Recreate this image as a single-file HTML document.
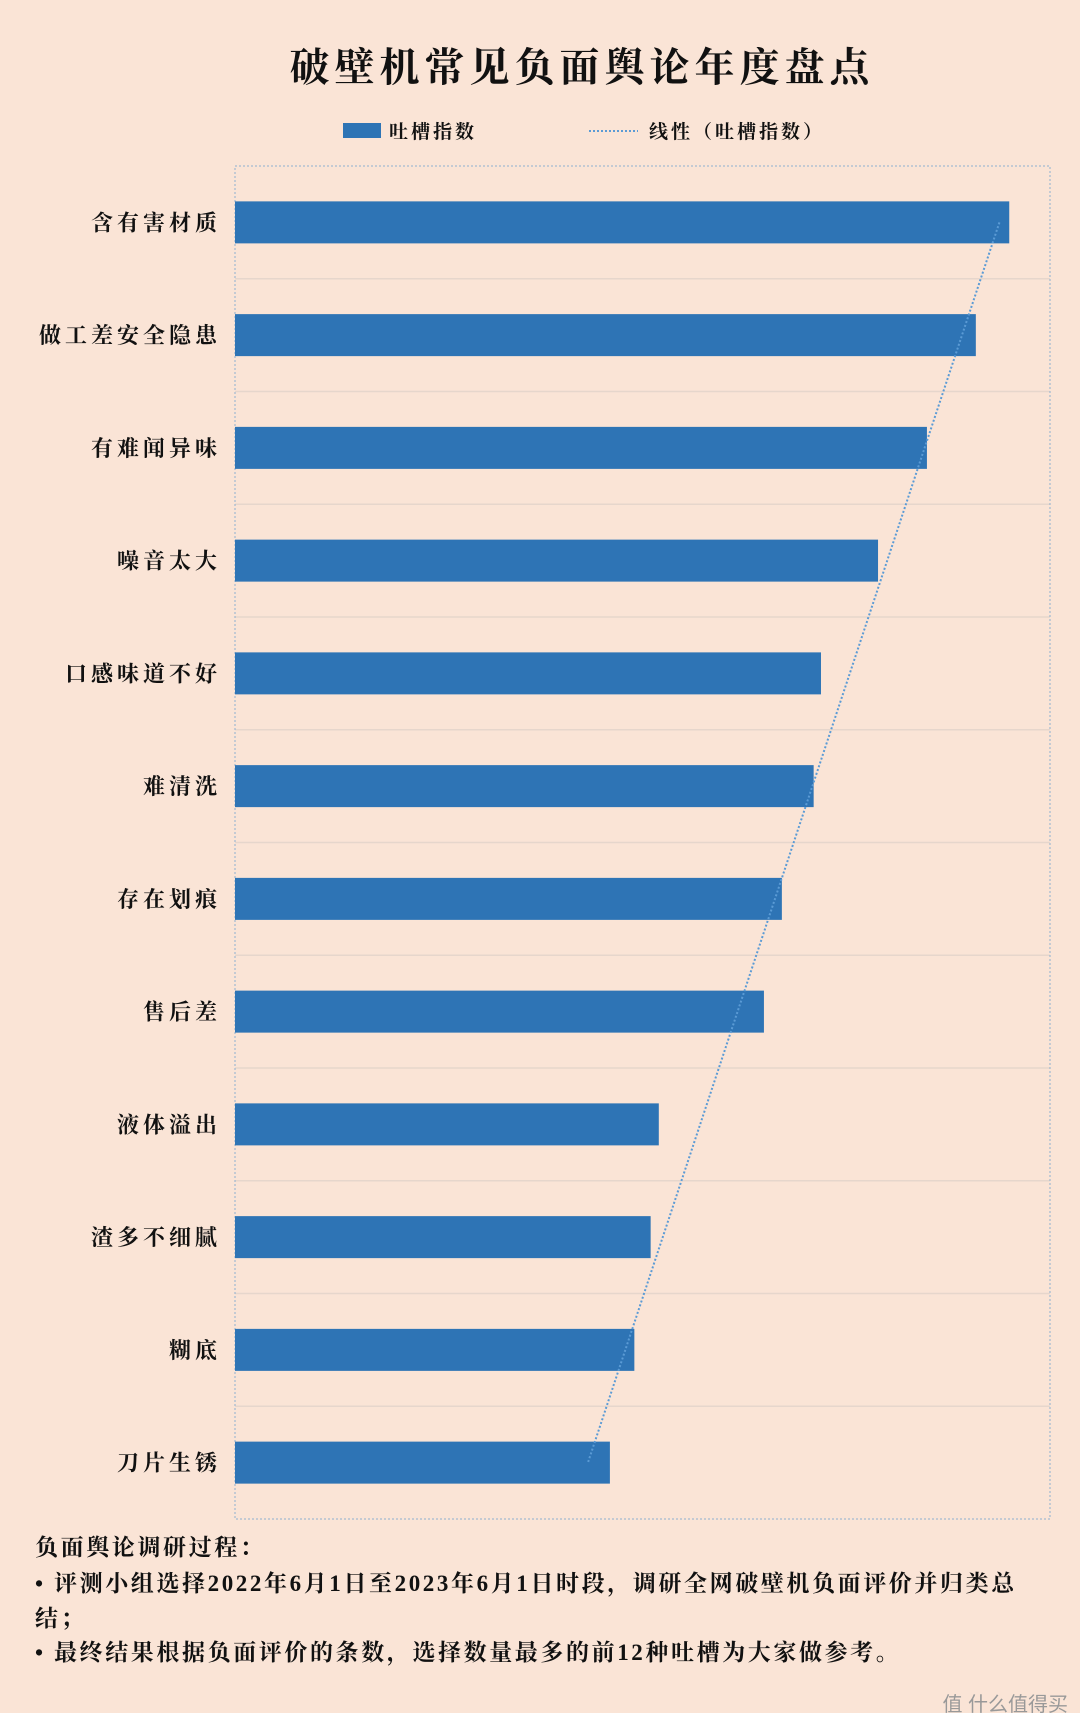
<!DOCTYPE html>
<html><head><meta charset="utf-8">
<style>
html,body{margin:0;padding:0;}
body{width:1080px;height:1727px;background:#fff;position:relative;overflow:hidden;font-family:"Liberation Serif","Noto Serif CJK SC",serif;}
#bg{position:absolute;left:0;top:0;width:1080px;height:1713px;background:#fae4d6;}
#title{position:absolute;left:0;width:1080px;top:36px;text-align:center;font-size:40px;font-weight:bold;letter-spacing:5px;color:#111;padding-left:84px;box-sizing:border-box;}
.foot{position:absolute;left:35px;width:1040px;font-size:23px;font-weight:bold;color:#111;line-height:35px;letter-spacing:2.6px;white-space:nowrap;}
#wm{position:absolute;right:12px;top:1688px;font-family:"Liberation Sans","Noto Sans CJK SC",sans-serif;font-size:20px;color:#999;}
</style></head><body>
<div id="bg"></div>
<div id="title">破壁机常见负面舆论年度盘点</div>
<svg id="chart" width="1080" height="1540" style="position:absolute;left:0;top:0"></svg>
<div class="foot" style="top:1530px">负面舆论调研过程：</div>
<div class="foot" style="top:1566px">• 评测小组选择2022年6月1日至2023年6月1日时段，调研全网破壁机负面评价并归类总<br>结；</div>
<div class="foot" style="top:1635px">• 最终结果根据负面评价的条数，选择数量最多的前12种吐槽为大家做参考。</div>
<div id="wm">值 什么值得买</div>
<script>
const categories=["含有害材质","做工差安全隐患","有难闻异味","噪音太大","口感味道不好","难清洗","存在划痕","售后差","液体溢出","渣多不细腻","糊底","刀片生锈"];
const values=[95.0,90.9,84.9,78.9,71.9,71.0,67.1,64.9,52.0,51.0,49.0,46.0];
const xMax=100;
const NS="http://www.w3.org/2000/svg";
const svg=document.getElementById('chart');
const L=235,R=1050,T=166,B=1519;
const band=(B-T)/categories.length;
const x=v=>L+(v/xMax)*(R-L);
const y=i=>T+band*i+band/2;
function mk(t,a){const e=document.createElementNS(NS,t);for(const k in a)e.setAttribute(k,a[k]);svg.appendChild(e);return e;}
for(let i=1;i<categories.length;i++){
  const g=mk('line',{x1:L,x2:R,y1:T+band*i,y2:T+band*i,stroke:'#e6d6cc','stroke-width':1.5});
  
  
}
const fr=mk('rect',{x:L,y:T,width:R-L,height:B-T,fill:'none',stroke:'#8fb0d0','stroke-width':1,'stroke-dasharray':'2 2'});


categories.forEach((c,i)=>{
  const r=mk('rect',{x:L,y:y(i)-21,width:x(values[i])-L,height:42,fill:'#2e74b5'});
  
  
  const t=mk('text',{x:221,y:y(i)+8,'text-anchor':'end','font-size':22,'font-weight':'bold',fill:'#111','letter-spacing':4});
  t.textContent=c;
  
  
});
const n=values.length;let sx=0,sy=0,sxy=0,sxx=0;
values.forEach((v,i)=>{sx+=i;sy+=v;sxy+=i*v;sxx+=i*i;});
const m=(n*sxy-sx*sy)/(n*sxx-sx*sx),b=(sy-m*sx)/n;
const tl=mk('line',{x1:x(b),y1:y(0),x2:x(b+m*(n-1)),y2:y(n-1),stroke:'#5b9bd5','stroke-width':2,'stroke-dasharray':'2 2'});


const lb=mk('rect',{x:343,y:123,width:38,height:15,fill:'#2e74b5'});


const lt=mk('text',{x:389,y:138,'font-size':19,'font-weight':'bold',fill:'#111','letter-spacing':3});lt.textContent='吐槽指数';


const ll=mk('line',{x1:589,x2:638,y1:131,y2:131,stroke:'#5b9bd5','stroke-width':2,'stroke-dasharray':'2 2'});


const lt2=mk('text',{x:649,y:138,'font-size':19,'font-weight':'bold',fill:'#111','letter-spacing':3});lt2.textContent='线性（吐槽指数）';


</script>
</body></html>
